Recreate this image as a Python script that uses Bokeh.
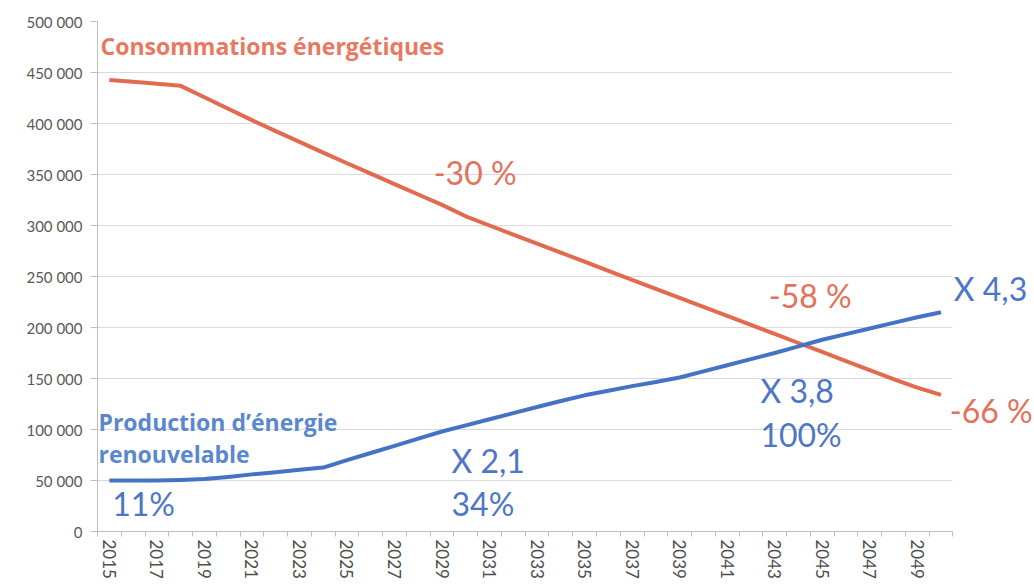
from bokeh.plotting import figure
from bokeh.models import Range1d, FixedTicker, Label
from bokeh.embed import file_html
from bokeh.resources import INLINE

# ---- data ----
years = list(range(2015, 2051))
consommations = [442700, 441000, 439000, 436900, 425700, 414500, 403300, 392500,
                 382000, 371500, 361000, 350800, 340600, 330400, 320200, 309000,
                 300000, 291000, 282200, 273300, 264500, 255600, 246800, 237900,
                 229100, 220200, 211400, 202500, 193700, 184800, 176000, 167100,
                 158300, 149400, 141000, 134000]
production = [50000, 50000, 50000, 50500, 51500, 53500, 56000, 58000,
              60500, 62700, 70000, 77000, 84000, 91000, 98000, 104000,
              110000, 116000, 122000, 128000, 133500, 138000, 142500, 146500,
              151000, 157000, 163000, 169000, 175000, 181500, 188000, 193500,
              199000, 204500, 210000, 215000]
y_ticks = [0, 50000, 100000, 150000, 200000, 250000, 300000, 350000, 400000, 450000, 500000]
y_tick_labels = ["0", "50 000", "100 000", "150 000", "200 000", "250 000",
                 "300 000", "350 000", "400 000", "450 000", "500 000"]
x_tick_years = years[::2]
x_tick_labels = [str(y) for y in x_tick_years]

RED = "#E26A4F"
RED_TXT = "#E5715A"
BLUE = "#4472C4"
BLUE_TXT = "#4D77C6"
BLUE_TITLE = "#5A87CE"
RED_TITLE = "#E87960"

# annotations: text, year, value, color, bold
notes_text = ["Consommations énergétiques", "-30 %", "-58 %", "-66 %",
              "X 4,3", "X 3,8", "100%", "X 2,1", "34%", "11%",
              "Production d’énergie", "renouvelable"]
notes_year = [2014.63, 2028.65, 2042.75, 2050.37, 2050.54, 2042.4, 2042.4,
              2029.4, 2029.4, 2015.12, 2014.54, 2014.54]
notes_value = [476000, 352000, 231000, 118500, 238000, 138000, 95000,
               70000, 27000, 27000, 107700, 76200]
notes_color = [RED_TITLE, RED_TXT, RED_TXT, RED_TXT, BLUE_TXT, BLUE_TXT, BLUE_TXT,
               BLUE_TXT, BLUE_TXT, BLUE_TXT, BLUE_TITLE, BLUE_TITLE]
notes_bold = [True, False, False, False, False, False, False, False, False, False, True, True]

FONT = "Lato"
W, H = 1034, 584
LEFT, TOP, BOTTOM = 97, 21, 53
px_per_year = 855.4 / 36
x_end = 2014.5 + (W - LEFT) / px_per_year

p = figure(width=W, height=H, output_backend="svg", toolbar_location=None,
           x_range=Range1d(2014.5, x_end), y_range=Range1d(0, 500000),
           min_border_left=LEFT, min_border_right=0, min_border_top=TOP,
           min_border_bottom=BOTTOM)
p.outline_line_color = None
p.background_fill_color = "white"
p.border_fill_color = "white"

p.xgrid.grid_line_color = None
p.ygrid.ticker = FixedTicker(ticks=y_ticks)
p.ygrid.grid_line_color = "#D9D9D9"
p.ygrid.grid_line_width = 1
try:
    p.ygrid.cross_bounds = (2014.5, 2050.5)
except Exception:
    p.ygrid.grid_line_color = None
    p.segment(x0=[2014.5] * len(y_ticks), x1=[2050.5] * len(y_ticks),
              y0=y_ticks, y1=y_ticks, line_color="#D9D9D9", line_width=1)

p.yaxis.ticker = FixedTicker(ticks=y_ticks)
p.yaxis.major_label_overrides = {t: l for t, l in zip(y_ticks, y_tick_labels)}
p.yaxis.axis_line_color = "#BFBFBF"
p.yaxis.major_tick_line_color = "#BFBFBF"
p.yaxis.major_tick_out = 7
p.yaxis.major_tick_in = 0
p.yaxis.minor_tick_line_color = None
p.yaxis.major_label_standoff = 8
p.yaxis.major_label_text_font = FONT
p.yaxis.major_label_text_font_size = "15px"
p.yaxis.major_label_text_color = "#595959"

minor = [y - 0.5 for y in years] + [years[-1] + 0.5]
p.xaxis.ticker = FixedTicker(ticks=x_tick_years, minor_ticks=minor)
p.xaxis.bounds = (2014.5, 2050.5)
p.xaxis.major_label_overrides = {t: l for t, l in zip(x_tick_years, x_tick_labels)}
p.xaxis.axis_line_color = "#BFBFBF"
p.xaxis.major_tick_line_color = None
p.xaxis.major_tick_out = 5
p.xaxis.major_tick_in = 0
p.xaxis.minor_tick_line_color = "#BFBFBF"
p.xaxis.minor_tick_out = 5
p.xaxis.minor_tick_in = 0
p.xaxis.major_label_orientation = "vertical"
p.xaxis.major_label_standoff = 3
p.xaxis.major_label_text_font = FONT
p.xaxis.major_label_text_font_size = "17px"
p.xaxis.major_label_text_color = "#4D4D4D"

p.line(years, consommations, line_color=RED, line_width=4, line_join="round")
p.line(years, production, line_color=BLUE, line_width=4, line_join="round")

for t, x, y, c, b in zip(notes_text, notes_year, notes_value, notes_color, notes_bold):
    p.add_layout(Label(x=x, y=y, text=t, text_color=c,
                       text_font="Open Sans" if b else FONT,
                       text_font_size="23px" if b else "32px",
                       text_font_style="bold" if b else "normal",
                       text_baseline="alphabetic", text_align="left"))

open("out.html", "w").write(file_html(p, INLINE))
